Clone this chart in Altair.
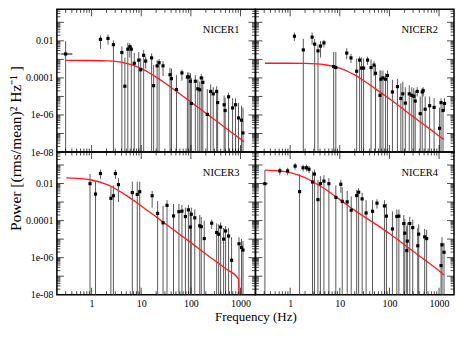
import altair as alt
import pandas as pd

FONT = "Liberation Serif"
W, H = 199, 143
XDOM = [0.2, 2000]
YDOM = [1e-8, 0.5]

# axis labels
x_label_values = [1, 10, 100, 1000]
y_label_values = [1e-8, 1e-6, 1e-4, 1e-2]
y_label_text = ["1e-08", "1e-06", "0.0001", "0.01"]

# ---------------- NICER1 (log10 power, bar ends; -8 = bar runs off the bottom)
n1_freq = [0.30, 1.51, 2.14, 2.75, 4.07, 4.68, 5.37, 5.89, 6.31, 7.24, 8.91, 9.77, 11.2, 12.3, 16.2,
           17.8, 20.9, 22.9, 27.5, 38.0, 40.7, 51.3, 66.1, 85.1, 91.2, 97.7, 102, 123, 138, 151,
           162, 174, 214, 251, 282, 331, 347, 468, 490, 575, 692, 794, 912, 1047, 1122]
n1_logp = [-2.71, -1.92, -1.87, -2.21, -2.63, -4.45, -2.45, -2.32, -2.45, -3.21, -3.04, -3.56, -2.78, -3.09, -2.92,
           -4.42, -3.35, -3.18, -3.35, -3.83, -4.04, -4.63, -3.73, -3.95, -3.95, -4.18, -5.38, -4.18, -4.59, -4.64,
           -4.00, -4.24, -5.97, -4.73, -4.86, -4.73, -5.33, -5.45, -5.76, -5.02, -5.62, -5.45, -6.16, -6.28, -6.97]
n1_hi = [-2.02, -1.70, -1.66, -1.97, -2.30, -2.90, -2.10, -2.12, -2.25, -2.65, -2.60, -2.95, -2.50, -2.85, -2.68,
         -3.30, -3.05, -2.98, -3.10, -3.45, -3.50, -3.85, -3.55, -3.70, -3.70, -3.75, -4.00, -3.85, -4.10, -4.20,
         -3.80, -3.95, -4.60, -4.35, -4.50, -4.45, -4.75, -4.95, -5.10, -4.80, -5.10, -5.10, -5.35, -5.50, -5.60]
n1_lo = [-8, -2.43, -2.20, -8, -8, -8, -8, -2.90, -8, -8, -8, -8, -8, -3.50, -8,
         -8, -8, -8, -3.90, -8, -8, -8, -4.15, -8, -8, -8, -8, -8, -8, -8,
         -8, -8, -8, -8, -8, -8, -8, -8, -8, -8, -8, -8, -8, -8, -8]
n1_xerr = [0.245, 0.41]
n1_model_f = [0.3, 1, 2, 3, 5, 7, 10, 15, 20, 30, 50, 100, 200, 500, 1000, 1175]
n1_model_logp = [-3.05, -3.06, -3.08, -3.11, -3.21, -3.32, -3.49, -3.75, -3.96, -4.28, -4.71, -5.30, -5.90,
                 -6.70, -7.30, -7.44]

# ---------------- NICER2
n2_freq = [1.22, 1.84, 2.77, 3.12, 3.64, 4.10, 4.79, 7.53, 8.32, 13.8, 16.8, 21.9, 25.1, 27.5, 30.2,
           36.3, 42.7, 49.0, 52.5, 64.6, 67.6, 74.1, 83.2, 91.2, 115, 145, 170, 186, 209, 251,
           282, 309, 331, 363, 417, 457, 479, 525, 646, 794, 1023, 1096, 1202, 1288]
n2_logp = [-1.75, -2.49, -1.80, -2.18, -2.54, -2.28, -2.11, -3.39, -3.44, -2.66, -2.92, -3.64, -3.04, -3.47, -3.47,
           -3.04, -3.44, -3.31, -3.75, -4.94, -4.07, -4.00, -4.07, -3.87, -4.76, -4.47, -5.11, -4.86, -5.36, -4.86,
           -4.94, -4.99, -5.25, -4.73, -5.93, -4.76, -4.69, -5.69, -5.50, -5.59, -6.72, -5.33, -5.76, -5.38]
n2_hi = [-1.55, -1.89, -1.55, -1.90, -2.20, -2.00, -1.95, -2.60, -2.60, -2.40, -2.70, -2.95, -2.85, -2.90, -2.95,
         -2.85, -3.00, -3.10, -3.30, -3.60, -3.60, -3.60, -3.75, -3.60, -4.10, -4.05, -4.30, -4.20, -4.50, -4.40,
         -4.50, -4.55, -4.70, -4.50, -5.00, -4.55, -4.50, -5.00, -5.00, -5.10, -5.60, -5.10, -5.30, -5.10]
n2_lo = [-2.00, -8, -2.20, -8, -8, -2.90, -2.35, -8, -8, -3.00, -3.20, -8, -8, -8, -8,
         -3.30, -8, -3.90, -8, -8, -8, -8, -8, -8, -8, -8, -8, -8, -8, -8,
         -8, -8, -8, -5.00, -8, -8, -5.00, -8, -8, -8, -8, -8, -8, -5.80]
n2_model_f = [0.31, 1, 2, 5, 10, 15, 20, 30, 50, 100, 200, 500, 1000, 1250]
n2_model_logp = [-3.21, -3.21, -3.22, -3.29, -3.47, -3.67, -3.84, -4.14, -4.55, -5.13, -5.73, -6.53, -7.13, -7.32]

# ---------------- NICER3
n3_freq = [0.93, 1.20, 1.51, 2.45, 2.75, 3.02, 3.47, 6.61, 8.32, 9.33, 16.6, 21.4, 27.5, 33.1, 44.7,
           57.5, 66.1, 77.6, 89.1, 97.7, 102, 120, 151, 162, 186, 263, 331, 363, 398, 457,
           501, 575, 661, 933, 1047, 1122]
n3_logp = [-2.01, -2.57, -1.46, -2.80, -2.66, -1.46, -2.06, -2.49, -2.59, -2.44, -2.66, -3.61, -4.12, -3.18, -3.75,
           -3.52, -3.49, -3.78, -3.42, -4.35, -3.66, -3.85, -4.28, -4.33, -4.97, -4.14, -4.64, -4.74, -4.35, -5.00,
           -4.56, -4.83, -6.14, -5.25, -5.45, -5.59]
n3_hi = [-1.49, -1.90, -1.25, -2.20, -2.10, -1.25, -1.70, -1.90, -1.90, -1.90, -2.40, -2.95, -3.20, -2.90, -3.10,
         -3.10, -3.15, -3.30, -3.15, -3.50, -3.30, -3.40, -3.70, -3.80, -4.00, -3.95, -4.15, -4.20, -4.10, -4.40,
         -4.30, -4.40, -4.90, -4.90, -5.00, -5.10]
n3_lo = [-8, -8, -1.75, -8, -8, -1.75, -3.00, -8, -8, -8, -3.30, -8, -8, -8, -8,
         -8, -8, -8, -8, -8, -8, -8, -8, -8, -8, -4.45, -8, -8, -8, -8,
         -8, -8, -8, -8, -8, -8]
n3_model_f = [0.31, 0.5, 1, 2, 3, 5, 10, 20, 50, 100, 200, 500, 910, 935]
n3_model_logp = [-1.70, -1.72, -1.81, -2.05, -2.28, -2.64, -3.21, -3.80, -4.59, -5.19, -5.80, -6.59, -7.15, -8.30]

# ---------------- NICER4
n4_freq = [0.31, 0.62, 0.89, 1.26, 1.55, 1.82, 2.14, 2.40, 2.82, 3.09, 3.63, 4.07, 4.79, 6.03, 8.32,
           10.5, 11.2, 14.1, 17.0, 21.9, 24.0, 28.2, 33.9, 45.7, 56.2, 79.4, 87.1, 115, 141, 155,
           195, 204, 224, 229, 257, 295, 372, 389, 513, 562, 1096, 1148, 1259]
n4_logp = [-2.01, -1.32, -1.32, -1.06, -2.44, -1.15, -1.15, -1.23, -1.92, -1.49, -2.87, -2.01, -1.87, -2.01, -2.75,
           -2.04, -2.96, -2.99, -3.44, -2.65, -2.47, -2.83, -3.59, -3.50, -3.06, -3.21, -3.76, -4.45, -3.78, -3.76,
           -4.16, -4.68, -5.62, -5.11, -4.16, -4.38, -5.36, -4.73, -4.88, -4.97, -6.43, -5.31, -5.71]
n4_hi = [-1.28, -1.15, -1.15, -0.90, -1.50, -0.98, -0.98, -1.05, -1.35, -1.25, -1.80, -1.60, -1.55, -1.70, -2.10,
         -1.80, -2.20, -2.40, -2.70, -2.35, -2.25, -2.50, -2.90, -2.90, -2.85, -2.90, -3.10, -3.50, -3.40, -3.40,
         -3.70, -3.90, -4.30, -4.10, -3.80, -3.95, -4.40, -4.20, -4.45, -4.50, -5.20, -4.90, -5.20]
n4_lo = [-8, -1.55, -1.55, -1.25, -8, -1.35, -1.35, -1.45, -8, -8, -8, -8, -8, -8, -8,
         -2.50, -8, -8, -8, -8, -8, -8, -8, -8, -3.35, -8, -8, -8, -8, -8,
         -8, -8, -8, -8, -8, -8, -8, -8, -8, -8, -8, -8, -8]
n4_xerr = [0.275, 0.35]
n4_model_f = [0.31, 0.5, 1, 2, 3, 5, 10, 20, 50, 100, 200, 500, 1000, 1250]
n4_model_logp = [-1.28, -1.30, -1.41, -1.68, -1.93, -2.30, -2.87, -3.45, -4.15, -4.70, -5.30, -6.10, -6.71, -6.93]

# tick positions (decades and 2..9 multiples), kept strictly inside the domain
x_major = [1, 10, 100, 1000]
x_minor = [m * 10.0 ** k for k in range(-1, 4) for m in range(2, 10) if XDOM[0] < m * 10.0 ** k < XDOM[1]]
y_major = [10.0 ** k for k in range(-7, 0)]
y_minor = [m * 10.0 ** k for k in range(-8, 0) for m in range(2, 10) if m * 10.0 ** k < YDOM[1]]

xs = alt.Scale(type="log", domain=XDOM, nice=False)
ys = alt.Scale(type="log", domain=YDOM, nice=False)

y_label_expr = ("datum.value < 1e-7 ? '%s' : datum.value < 1e-5 ? '%s' : datum.value < 1e-3 ? '%s' : '%s'"
                % tuple(y_label_text))


def panel(name, freq, logp, hi, lo, mf, mlogp, xerr=None, show_x=False, show_y=False,
          ytitle=False, xtitle=False):
    assert len(freq) == len(logp) == len(hi) == len(lo)
    df = pd.DataFrame({"f": freq, "p": [10 ** v for v in logp],
                       "hi": [10 ** v for v in hi], "lo": [10 ** v for v in lo]})
    mdf = pd.DataFrame({"f": mf, "p": [10 ** v for v in mlogp]})

    xa = dict(values=x_label_values, format="d", ticks=False, domain=False, grid=False, tickSize=0,
              labels=show_x, labelFont=FONT, labelFontSize=10, labelColor="black", labelPadding=4,
              labelOverlap=False, labelFlush=False, title="")
    if xtitle:
        xa.update(title="Frequency (Hz)", titleFont=FONT, titleFontSize=13, titleFontWeight="normal",
                  titleColor="black", titleX=W, titleY=26, titleAlign="center", titleBaseline="alphabetic")
    ya = dict(values=y_label_values, labelExpr=y_label_expr, ticks=False, domain=False, grid=False,
              tickSize=0, labels=show_y, labelFont=FONT, labelFontSize=10, labelColor="black",
              labelPadding=4, labelOverlap=False, labelFlush=False, title="")
    if ytitle:
        ya.update(title="Power [(rms/mean)\u00b2 Hz\u207b\u00b9 ]", titleFont=FONT, titleFontSize=15.5,
                  titleFontWeight="normal", titleColor="black", titleX=-33, titleY=H - 4, titleAngle=270,
                  titleAlign="center", titleBaseline="bottom")
    x_axis = alt.Axis(**xa)
    y_axis = alt.Axis(**ya)

    def X(field):
        return alt.X(field, type="quantitative", scale=xs, axis=x_axis)

    def Y(field):
        return alt.Y(field, type="quantitative", scale=ys, axis=y_axis)

    layers = []
    layers.append(alt.Chart(df).mark_rule(color="#585858", strokeWidth=1, clip=True).encode(
        x=X("f"), y=Y("lo"), y2="hi"))
    if xerr is not None:
        xdf = pd.DataFrame({"f0": [xerr[0]], "f1": [xerr[1]], "p": [10 ** logp[0]]})
        layers.append(alt.Chart(xdf).mark_rule(color="black", strokeWidth=1, clip=True).encode(
            x=X("f0"), x2="f1", y=Y("p")))
    layers.append(alt.Chart(mdf).mark_line(color="#ff1a1a", strokeWidth=1.3, clip=True,
                                           interpolate="monotone").encode(x=X("f"), y=Y("p")))
    layers.append(alt.Chart(df).mark_square(size=10, color="black", opacity=1).encode(
        x=X("f"), y=Y("p")))
    layers.append(alt.Chart(pd.DataFrame({"label": [name]})).mark_text(
        align="right", baseline="alphabetic", font=FONT, fontSize=10.5, color="black").encode(
        text="label:N", x=alt.value(W - 16), y=alt.value(24)))

    tx_major = pd.DataFrame({"t": x_major})
    tx_minor = pd.DataFrame({"t": x_minor})
    ty_major = pd.DataFrame({"t": y_major})
    ty_minor = pd.DataFrame({"t": y_minor})
    for tdf, size in ((tx_major, 7), (tx_minor, 3.5)):
        for yy in (H - size / 2, size / 2):
            layers.append(alt.Chart(tdf).mark_tick(size=size, thickness=1, color="black").encode(
                x=X("t"), y=alt.value(yy)))
    for tdf, size in ((ty_major, 7), (ty_minor, 3.5)):
        for xx in (size / 2, W - size / 2):
            layers.append(alt.Chart(tdf).mark_tick(size=size, thickness=1, color="black").encode(
                y=Y("t"), x=alt.value(xx)))
    return alt.layer(*layers).properties(width=W, height=H)


p1 = panel("NICER1", n1_freq, n1_logp, n1_hi, n1_lo, n1_model_f, n1_model_logp, xerr=n1_xerr,
           show_y=True, ytitle=True)
p2 = panel("NICER2", n2_freq, n2_logp, n2_hi, n2_lo, n2_model_f, n2_model_logp)
p3 = panel("NICER3", n3_freq, n3_logp, n3_hi, n3_lo, n3_model_f, n3_model_logp,
           show_x=True, show_y=True, xtitle=True)
p4 = panel("NICER4", n4_freq, n4_logp, n4_hi, n4_lo, n4_model_f, n4_model_logp, xerr=n4_xerr,
           show_x=True)

chart = alt.concat(p1, p2, p3, p4, columns=2, spacing=0, bounds="flush", padding=0).configure(
    background="white").configure_view(stroke="black", strokeWidth=1.5)

chart.save("out.html", embed_options={"renderer": "svg", "actions": False})
